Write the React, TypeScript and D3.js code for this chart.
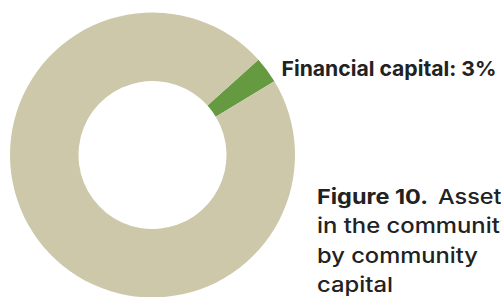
import React from 'react';
import * as d3 from 'd3';

const categories = ['Financial capital', 'Other capitals'];
const shares = [3, 97];
const sliceColors = ['#659a41', '#cdc8a9'];
const labelText = 'Financial capital: 3%';
const captionBold = 'Figure 10.';
const captionLines = ['Assets', 'in the community', 'by community', 'capital'];

const W = 501;
const H = 297;

function App() {
  const cx = 152.5;
  const cy = 155;
  const outer = 142.5;
  const inner = 74;

  const data = categories.map((c, i) => ({ name: c, value: shares[i] }));
  const start = (48 * Math.PI) / 180;
  const pie = d3.pie<{ name: string; value: number }>()
    .value(d => d.value)
    .sort(null)
    .startAngle(start)
    .endAngle(start + 2 * Math.PI);
  const arc = d3.arc<d3.PieArcDatum<{ name: string; value: number }>>()
    .innerRadius(inner)
    .outerRadius(outer);
  const color = d3.scaleOrdinal<string>().domain(categories).range(sliceColors);

  const font = 'Inter, "Noto Sans", sans-serif';
  const fs = 20.6;
  const capX = 317;
  const lineY = (i: number) => 204 + i * 29.3;
  // widths of the wide grotesque used in the original
  const lineWidths = [197, 161, 76];

  return (
    <svg width={W} height={H} style={{ position: 'absolute', left: 0, top: 0, display: 'block' }}>
      <g transform={`translate(${cx},${cy})`}>
        {pie(data).map(d => (
          <path key={d.data.name} d={arc(d) || ''} fill={color(d.data.name)} />
        ))}
      </g>
      <text x={281.5} y={76} fontFamily={font} fontWeight={700} fontSize={fs} fill="#222"
        textLength={215} lengthAdjust="spacingAndGlyphs">
        {labelText}
      </text>
      <g fontFamily={font} fontSize={fs} fill="#222">
        <text x={capX} y={lineY(0)} fontWeight={700} textLength={111} lengthAdjust="spacingAndGlyphs">
          {captionBold}
        </text>
        <text x={438} y={lineY(0)} fontWeight={500} textLength={76} lengthAdjust="spacingAndGlyphs">
          {captionLines[0]}
        </text>
        {captionLines.slice(1).map((l, i) => (
          <text key={l} x={capX} y={lineY(i + 1)} fontWeight={500}
            textLength={lineWidths[i]} lengthAdjust="spacingAndGlyphs">{l}</text>
        ))}
      </g>
    </svg>
  );
}

export default App;
